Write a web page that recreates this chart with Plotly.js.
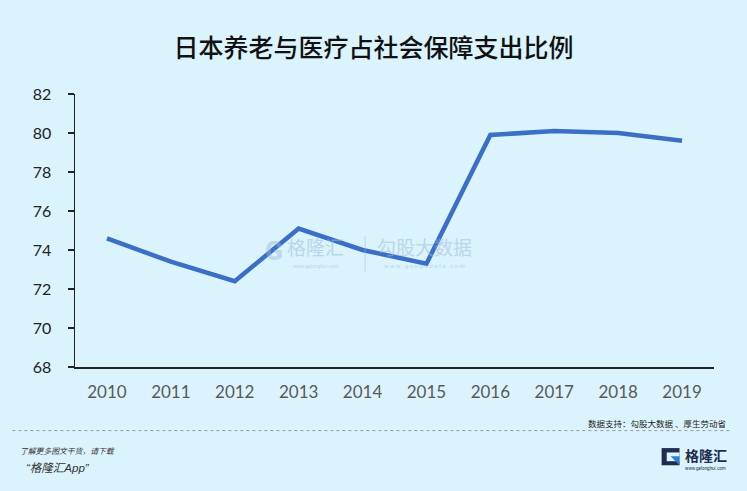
<!DOCTYPE html>
<html><head><meta charset="utf-8">
<script src="https://cdn.plot.ly/plotly-3.0.1.min.js"></script>
<style>body{margin:0;background:#dbf3fc}#c{width:747px;height:491px}</style>
</head><body><div id="c"></div>
<script>
const years = ['2010','2011','2012','2013','2014','2015','2016','2017','2018','2019'];
const share = [74.6, 73.4, 72.4, 75.1, 74.0, 73.3, 79.9, 80.1, 80.0, 79.6];
const yTicks = [68,70,72,74,76,78,80,82];
const titleText = '日本养老与医疗占社会保障支出比例';
const sourceText = '数据支持：勾股大数据 、厚生劳动省';

const bg = '#dbf3fc';
const cjk = '"Noto Sans CJK SC", "Noto Sans", sans-serif';
const wm = '#9dbad6';

const trace = {
  x: years, y: share, type: 'scatter', mode: 'lines',
  line: {color: '#3a6ec7', width: 4.5},
  hoverinfo: 'skip'
};

const layout = {
  width: 747, height: 491,
  paper_bgcolor: bg, plot_bgcolor: bg,
  margin: {l: 75, r: 33, t: 94, b: 124},
  showlegend: false,
  title: {text: titleText, x: 0.5, xanchor: 'center', y: 0.902, yanchor: 'middle',
          font: {family: cjk, size: 25, color: '#111', weight: 500}},
  xaxis: {
    type: 'category', range: [-0.5, 9.5], showgrid: false, zeroline: false,
    showline: true, linecolor: '#222', linewidth: 1.5,
    ticks: '', tickfont: {family: 'Lato, "Open Sans", sans-serif', size: 17, color: '#595959'},
    ticklabelstandoff: 9, fixedrange: true
  },
  yaxis: {
    range: [68, 82], tickvals: yTicks, showgrid: false, zeroline: false,
    showline: true, linecolor: '#222', linewidth: 1.5,
    ticks: 'outside', ticklen: 6, tickcolor: '#222', tickwidth: 1.5,
    tickfont: {family: 'Lato, "Open Sans", sans-serif', size: 16, color: '#222'},
    ticklabelstandoff: 13, fixedrange: true
  },
  shapes: [
    {type: 'line', xref: 'paper', yref: 'paper', x0: -0.098, x1: 1.025, y0: -0.233, y1: -0.233,
     line: {color: '#9a9a9a', width: 1, dash: 'dot'}},
    // logo icon
    {type: 'rect', xref: 'paper', yref: 'paper', x0: 0.918, x1: 0.946, y0: -0.297, y1: -0.36,
     fillcolor: '#1e2d4f', line: {width: 0}},
    {type: 'rect', xref: 'paper', yref: 'paper', x0: 0.926, x1: 0.946, y0: -0.313, y1: -0.345,
     fillcolor: bg, line: {width: 0}},
    {type: 'path', xref: 'paper', yref: 'paper',
     path: 'M 0.932 -0.327 L 0.946 -0.327 L 0.946 -0.36 Z', fillcolor: '#2f7fd6', line: {width: 0}},
    // watermark separator
    {type: 'line', xref: 'paper', yref: 'paper', x0: 0.454, x1: 0.454, y0: 0.48, y1: 0.35,
     line: {color: wm, width: 1}, opacity: 0.5}
  ],
  annotations: [
    {text: sourceText, xref: 'paper', yref: 'paper', x: 1.022, y: -0.205, xanchor: 'right', yanchor: 'middle',
     showarrow: false, font: {family: cjk, size: 8.5, color: '#222'}},
    {text: '<i>了解更多图文干货，请下载</i>', xref: 'paper', yref: 'paper', x: -0.089, y: -0.305, xanchor: 'left', yanchor: 'middle',
     showarrow: false, font: {family: cjk, size: 7.8, color: '#333'}},
    {text: '<i>“格隆汇App”</i>', xref: 'paper', yref: 'paper', x: -0.08, y: -0.37, xanchor: 'left', yanchor: 'middle',
     showarrow: false, font: {family: '"Liberation Sans", ' + cjk, size: 11.5, color: '#333'}},
    {text: '<b>格隆汇</b>', xref: 'paper', yref: 'paper', x: 0.951, y: -0.322, xanchor: 'left', yanchor: 'middle',
     showarrow: false, font: {family: cjk, size: 14, color: '#1e2d4f'}},
    {text: 'www.gelonghui.com', xref: 'paper', yref: 'paper', x: 0.952, y: -0.372, xanchor: 'left', yanchor: 'middle',
     showarrow: false, font: {family: 'Roboto, sans-serif', size: 4.5, color: '#1e2d4f'}},
    // watermark
    {text: 'G', xref: 'paper', yref: 'paper', x: 0.312, y: 0.425, xanchor: 'center', yanchor: 'middle',
     showarrow: false, opacity: 0.45, font: {family: 'Roboto, sans-serif', size: 26, color: wm, weight: 900}},
    {text: '格隆汇', xref: 'paper', yref: 'paper', x: 0.377, y: 0.44, xanchor: 'center', yanchor: 'middle',
     showarrow: false, opacity: 0.5, font: {family: cjk, size: 19, color: wm}},
    {text: '勾股大数据', xref: 'paper', yref: 'paper', x: 0.547, y: 0.44, xanchor: 'center', yanchor: 'middle',
     showarrow: false, opacity: 0.5, font: {family: cjk, size: 19, color: wm}},
    {text: 'www.gelonghui.com', xref: 'paper', yref: 'paper', x: 0.377, y: 0.37, xanchor: 'center', yanchor: 'middle',
     showarrow: false, opacity: 0.5, font: {family: 'Roboto, sans-serif', size: 5, color: wm}},
    {text: 'w w w . g o u g u d a t a . c o m', xref: 'paper', yref: 'paper', x: 0.547, y: 0.37, xanchor: 'center', yanchor: 'middle',
     showarrow: false, opacity: 0.5, font: {family: 'Roboto, sans-serif', size: 6, color: wm}}
  ]
};

Plotly.newPlot('c', [trace], layout, {displayModeBar: false, staticPlot: true});
</script>
</body></html>
